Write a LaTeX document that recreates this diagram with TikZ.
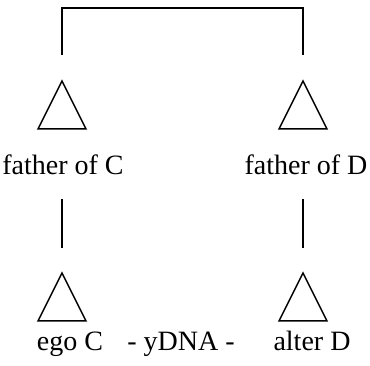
\documentclass[tikz,border=0pt]{standalone}
\usepackage{fontspec}
\setmainfont{Liberation Serif}
\usepackage{tikz}
\usetikzlibrary{shapes.geometric, positioning}

\tikzset{
  male/.style={draw, line width=1.5pt, isosceles triangle, isosceles triangle stretches,
    shape border rotate=90, minimum width=48pt, minimum height=48pt, inner sep=0pt, anchor=apex},
  lbl/.style={font=\fontsize{28}{32}\selectfont, inner sep=0pt, anchor=base},
  kin/.style={line width=1.5pt}
}

\begin{document}
\begin{tikzpicture}[x=1pt, y=1pt]
            \useasboundingbox (0,0) rectangle (370,365);
            % fathers
            \node[male] (fC) at (62,286) {};
            \node[male] (fD) at (303,286) {};
            \node[lbl] (lblFC) at (63,190) {father of C};
            \node[lbl] (lblFD) at (306,190) {father of D};
            % ego and alter
            \node[male] (egoC) at (62,94) {};
            \node[male] (altD) at (303,94) {};
            \node[lbl] (lblEgo) at (70,15) {ego C};
            \node[lbl] (lblY) at (181,15) {- yDNA -};
            \node[lbl] (lblAlt) at (312,15) {alter D};
            % lines
            \draw[kin] ([yshift=24pt]fC.apex) -- ++(0,47) -| ([yshift=24pt]fD.apex);
            \draw[kin] ([yshift=-24pt]egoC.apex |- lblFC.base) -- ([yshift=23pt]egoC.apex);
            \draw[kin] ([yshift=-24pt]altD.apex |- lblFD.base) -- ([yshift=23pt]altD.apex);
        \end{tikzpicture}
\end{document}
